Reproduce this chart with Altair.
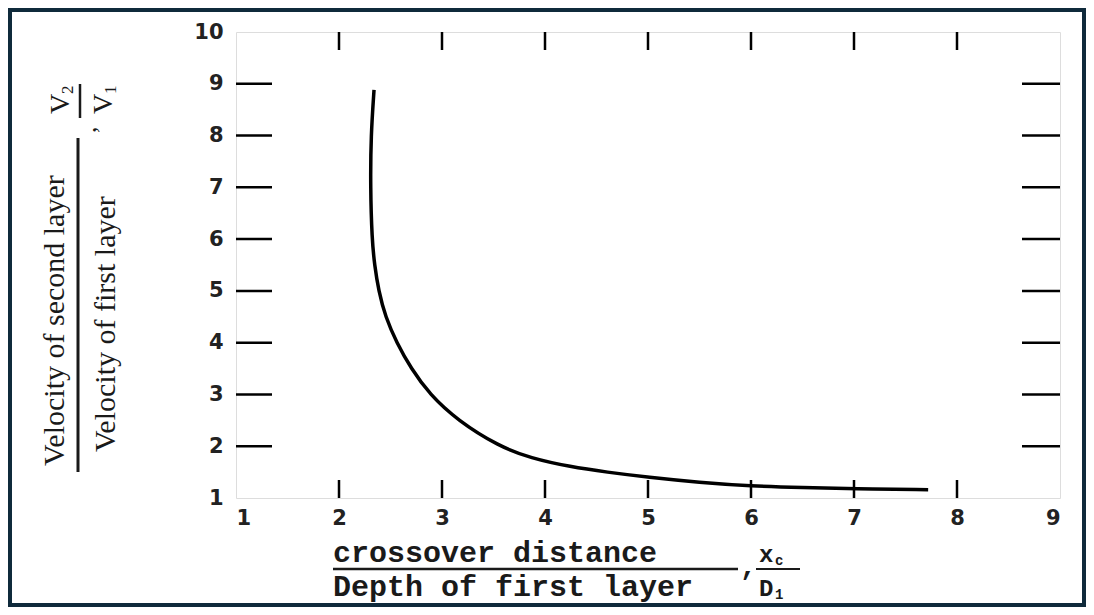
import altair as alt
import pandas as pd

# curve
ratio_x = [2.34, 2.31, 2.305, 2.32, 2.345, 2.385, 2.45, 2.56, 2.70, 2.88, 3.15,
           3.55, 3.86, 4.25, 4.60, 5.00, 5.50, 6.00, 6.50, 7.00, 7.72]
ratio_y = [8.88, 8.00, 7.00, 6.00, 5.50, 5.00, 4.50, 4.00, 3.50, 3.00, 2.50,
           2.00, 1.77, 1.60, 1.50, 1.40, 1.30, 1.23, 1.20, 1.18, 1.16]
x_ticks = [1, 2, 3, 4, 5, 6, 7, 8, 9]
y_ticks = [1, 2, 3, 4, 5, 6, 7, 8, 9, 10]
x_inner = [2, 3, 4, 5, 6, 7, 8]
y_inner = [2, 3, 4, 5, 6, 7, 8, 9]

W, H = 824, 466
OX, OY = 236, 32  # page position of the plot origin

curve = pd.DataFrame({"x": ratio_x, "y": ratio_y, "i": range(len(ratio_x))})
xt = pd.DataFrame({"x": x_inner})
yt = pd.DataFrame({"y": y_inner})

xs = alt.Scale(domain=[1, 9], nice=False, zero=False)
ys = alt.Scale(domain=[1, 10], nice=False, zero=False)

xaxis = alt.Axis(values=x_ticks, ticks=False, domain=False, grid=False, labelPadding=9,
                 labelFont="DejaVu Sans", labelFontWeight="bold", labelFontSize=21,
                 labelColor="#222", title=None, format="d")
yaxis = alt.Axis(values=y_ticks, ticks=False, domain=False, grid=False, labelPadding=13,
                 labelFont="DejaVu Sans", labelFontWeight="bold", labelFontSize=21,
                 labelColor="#222", title=None, format="d")

line = alt.Chart(curve).mark_line(color="black", strokeWidth=3.5, interpolate="basis").encode(
    x=alt.X("x:Q", scale=xs, axis=xaxis),
    y=alt.Y("y:Q", scale=ys, axis=yaxis),
    order="i:O",
)

tk = dict(color="black", strokeWidth=2.5)
ytl = alt.Chart(yt).mark_rule(**tk).encode(y=alt.Y("y:Q", scale=ys), x=alt.value(0), x2=alt.value(36))
ytr = alt.Chart(yt).mark_rule(**tk).encode(y=alt.Y("y:Q", scale=ys), x=alt.value(W - 38), x2=alt.value(W))
xtb = alt.Chart(xt).mark_rule(**tk).encode(x=alt.X("x:Q", scale=xs), y=alt.value(H - 18), y2=alt.value(H))
xtt = alt.Chart(xt).mark_rule(**tk).encode(x=alt.X("x:Q", scale=xs), y=alt.value(0), y2=alt.value(18))


def px(v):
    return alt.value(v - OX)


def py(v):
    return alt.value(v - OY)


def txt(s, x, y, size, font, angle=0, weight="normal", align="left", baseline="alphabetic"):
    return alt.Chart(pd.DataFrame({"t": [s]})).mark_text(
        font=font, fontSize=size, fontWeight=weight, angle=angle, align=align,
        baseline=baseline, color="#1a1a1a").encode(text="t:N", x=px(x), y=py(y))


def rule(x1, y1, x2, y2, w=2.5):
    return alt.Chart(pd.DataFrame({"a": [0]})).mark_rule(color="#1a1a1a", strokeWidth=w).encode(
        x=px(x1), x2=px(x2), y=py(y1), y2=py(y2))


mono = "Liberation Mono"
serif = "Liberation Serif"

texts = [
    # x title
    txt("crossover distance", 333, 562, 30, mono, weight="bold"),
    rule(333, 569, 738, 569),
    txt("Depth of first layer", 333, 596, 30, mono, weight="bold"),
    txt(",", 740, 575, 28, mono, weight="bold"),
    txt("x", 759, 562, 24, mono, weight="bold"),
    txt("c", 775, 565, 14, mono, weight="bold"),
    rule(756, 569, 800, 569, 2),
    txt("D", 759, 596, 24, mono, weight="bold"),
    txt("1", 775, 599, 14, mono, weight="bold"),
    # y title
    txt("Velocity of second layer", 64, 466, 30, serif, angle=270),
    rule(78, 472, 78, 138, 3),
    txt("Velocity of first layer", 115, 452, 30, serif, angle=270),
    txt(",", 96, 133, 26, serif, angle=270),
    txt("V", 69, 114, 28, serif, angle=270),
    txt("2", 73, 94, 17, serif, angle=270),
    rule(80, 118, 80, 84, 2.5),
    txt("V", 112, 114, 28, serif, angle=270),
    txt("1", 116, 94, 17, serif, angle=270),
]

border = alt.Chart(pd.DataFrame({"a": [0]})).mark_rect(
    filled=False, stroke="#0f2a3b", strokeWidth=6).encode(
    x=px(9), x2=px(1085), y=py(9), y2=py(606))

chart = alt.layer(border, ytl, ytr, xtb, xtt, line, *texts).properties(
    width=W, height=H,
    autosize=alt.AutoSizeParams(type="none"),
    padding={"left": OX - 8, "top": OY - 8, "right": 1078 - (OX - 8) - W, "bottom": 599 - (OY - 8) - H},
).configure_view(stroke="black", strokeWidth=2.8).configure(background="white")

chart.save("out.html", embed_options={"renderer": "svg", "actions": False})
